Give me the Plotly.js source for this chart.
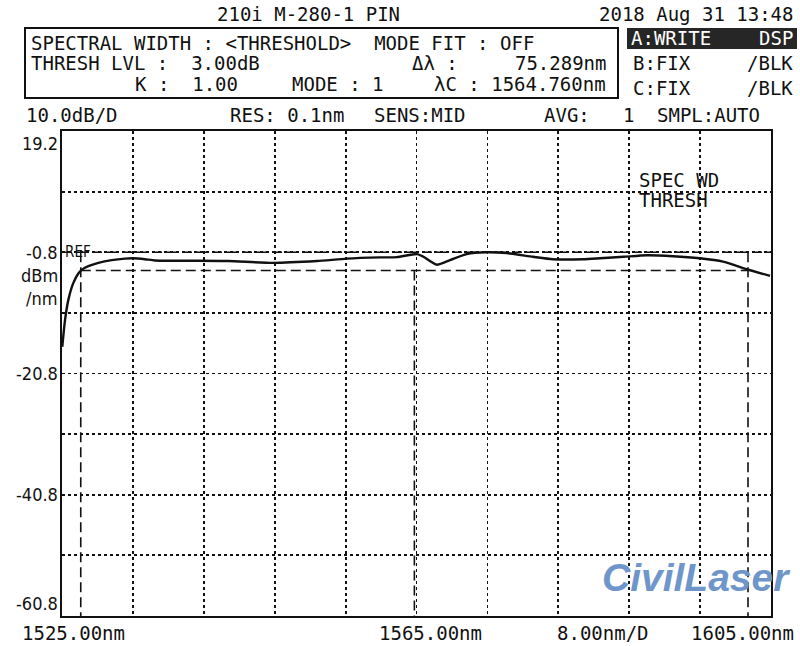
<!DOCTYPE html>
<html>
<head>
<meta charset="utf-8">
<script src="https://cdn.plot.ly/plotly-3.0.1.min.js"></script>
<style>
  html, body { margin: 0; padding: 0; background: #ffffff; }
  #chart { width: 800px; height: 646px; }
</style>
</head>
<body>
<div id="chart"></div>
<script>
// ---- data ----
const wavelength = [1525.03, 1525.34, 1525.71, 1526.27, 1526.84, 1527.22, 1527.97, 1529.10, 1530.61, 1532.11,
  1533.01, 1534.37, 1535.49, 1539.22, 1543.73, 1548.81, 1553.77, 1557.16, 1560.88, 1562.80,
  1565.06, 1565.73, 1567.28, 1568.78, 1570.66, 1572.92, 1575.18, 1578.14, 1580.40, 1583.79,
  1585.70, 1588.40, 1590.98, 1593.95, 1596.98, 1599.58, 1602.26, 1604.89];
const power = [-16.4, -12.0, -8.7, -5.9, -4.3, -3.7, -3.1, -2.55, -2.1, -1.85,
  -1.8, -1.95, -2.15, -2.2, -2.25, -2.55, -2.25, -1.85, -1.65, -1.6,
  -1.1, -1.5, -2.85, -2.1, -1.1, -0.8, -0.95, -1.55, -1.95, -1.95,
  -1.8, -1.55, -1.3, -1.45, -1.8, -2.35, -3.6, -4.7];

const refLevel = -0.8;
const threshDb = 3.0;
const deltaLambda = 75.289;
const centerLambda = 1564.760;
const xStart = 1525, xStop = 1605, xDiv = 8;
const yTop = 19.2, yBottom = -60.8, yDiv = 10;
const yTickVals = [19.2, -0.8, -20.8, -40.8, -60.8];
const yTickText = ["19.2", "-0.8", "-20.8", "-40.8", "-60.8"];

// ---- layout helpers (pixel -> paper) ----
const L = 62, R = 771, T = 131, B = 616;
const px = x => (x - L) / (R - L);
const py = y => (B - y) / (B - T);
const MONO = "DejaVu Sans Mono, Liberation Mono, monospace";
const COND = "DejaVu Sans Condensed, Liberation Sans Narrow, DejaVu Sans, sans-serif";

function txt(text, x, y, opts) {
  opts = opts || {};
  return {
    text: text, xref: 'paper', yref: 'paper', x: px(x), y: py(y),
    xanchor: opts.xa || 'left', yanchor: opts.ya || 'middle',
    showarrow: false,
    font: { family: opts.family || MONO, size: opts.size || 19, color: opts.color || '#111' }
  };
}

const lambda1 = centerLambda - deltaLambda / 2;
const lambda2 = centerLambda + deltaLambda / 2;
const threshLevel = refLevel - threshDb;

const annotations = [
  txt("210i M-280-1 PIN", 215, 14),
  txt("2018 Aug 31 13:48", 795, 14, {xa: 'right'}),
  txt("SPECTRAL WIDTH : &lt;THRESHOLD&gt;  MODE FIT : OFF", 29, 43),
  txt("THRESH LVL :  3.00dB", 29, 63),
  txt("Δλ :     75.289nm", 608, 63, {xa: 'right'}),
  txt("K :  1.00", 133, 84),
  txt("MODE : 1", 290, 84),
  txt("λC : 1564.760nm", 608, 84, {xa: 'right'}),
  txt("A:WRITE", 629, 38, {color: '#ffffff'}),
  txt("DSP", 795, 38, {xa: 'right', color: '#ffffff'}),
  txt("B:FIX", 631, 63),
  txt("/BLK", 795, 63, {xa: 'right'}),
  txt("C:FIX", 631, 88),
  txt("/BLK", 795, 88, {xa: 'right'}),
  txt("10.0dB/D", 24, 115),
  txt("RES: 0.1nm", 228, 115),
  txt("SENS:MID", 372, 115),
  txt("AVG:", 542, 115),
  txt("1", 621, 115),
  txt("SMPL:AUTO", 655, 115),
  txt("dBm", 60, 275, {xa: 'right', family: COND, size: 18}),
  txt("/nm", 60, 298, {xa: 'right', family: COND, size: 18}),
  txt("REF", 63, 252, {size: 15, family: COND}),
  txt("1525.00nm", 20, 633),
  txt("1565.00nm", 377, 633),
  txt("8.00nm/D", 555, 633),
  txt("1605.00nm", 796, 633, {xa: 'right'}),
  txt("SPEC WD", 637, 180),
  txt("THRESH", 637, 200),
  {
    text: "<b><i>CivilLaser</i></b>", xref: 'paper', yref: 'paper', x: px(696), y: py(577),
    xanchor: 'center', yanchor: 'middle', showarrow: false,
    font: { family: "Liberation Sans, Arial, sans-serif", size: 39, color: '#6f96cb' }
  }
];

yTickVals.forEach((v, i) => {
  annotations.push({
    text: yTickText[i], xref: 'paper', yref: 'y', x: px(60), y: v,
    xanchor: 'right',
    yanchor: i === 0 ? 'top' : (i === yTickVals.length - 1 ? 'bottom' : 'middle'),
    showarrow: false,
    font: { family: COND, size: 18, color: '#111' }
  });
});

const dashLine = { color: '#111', width: 1.6, dash: '10px,5px' };
const shapes = [
  // header box
  { type: 'rect', xref: 'paper', yref: 'paper', x0: px(25), x1: px(618), y0: py(28), y1: py(98),
    line: { color: '#111', width: 2 } },
  // inverted trace A label
  { type: 'rect', xref: 'paper', yref: 'paper', x0: px(627), x1: px(797), y0: py(28), y1: py(49),
    fillcolor: '#262626', line: { width: 0 } },
  // reference / peak level
  { type: 'line', xref: 'x', yref: 'y', x0: xStart, x1: xStop, y0: refLevel, y1: refLevel, line: dashLine },
  // threshold level
  { type: 'line', xref: 'x', yref: 'y', x0: lambda1, x1: lambda2, y0: threshLevel, y1: threshLevel, line: dashLine },
  // spectral width markers
  { type: 'line', xref: 'x', yref: 'y', x0: lambda1, x1: lambda1, y0: refLevel, y1: yBottom, line: dashLine },
  { type: 'line', xref: 'x', yref: 'y', x0: lambda2, x1: lambda2, y0: refLevel, y1: yBottom, line: dashLine },
  // centre wavelength marker
  { type: 'line', xref: 'x', yref: 'y', x0: centerLambda, x1: centerLambda, y0: threshLevel, y1: yBottom, line: dashLine }
];

const trace = {
  x: wavelength, y: power, type: 'scatter', mode: 'lines',
  line: { color: '#111', width: 2.4, shape: 'spline', smoothing: 0.6 },
  hoverinfo: 'skip'
};

const layout = {
  width: 800, height: 646,
  margin: { l: L, r: 800 - R, t: T, b: 646 - B, pad: 0 },
  paper_bgcolor: '#ffffff', plot_bgcolor: '#ffffff',
  showlegend: false,
  xaxis: {
    range: [xStart, xStop], tick0: xStart, dtick: xDiv, showticklabels: false, ticks: '',
    showgrid: true, gridcolor: '#111', gridwidth: 1.8, griddash: 'dot',
    showline: true, linecolor: '#111', linewidth: 2, mirror: true, zeroline: false, fixedrange: true
  },
  yaxis: {
    range: [yBottom, yTop], tick0: yBottom, dtick: yDiv, showticklabels: false, ticks: '',
    showgrid: true, gridcolor: '#111', gridwidth: 1.8, griddash: 'dot',
    showline: true, linecolor: '#111', linewidth: 2, mirror: true, zeroline: false, fixedrange: true
  },
  annotations: annotations,
  shapes: shapes
};

Plotly.newPlot('chart', [trace], layout, { displayModeBar: false, staticPlot: true });
</script>
</body>
</html>
